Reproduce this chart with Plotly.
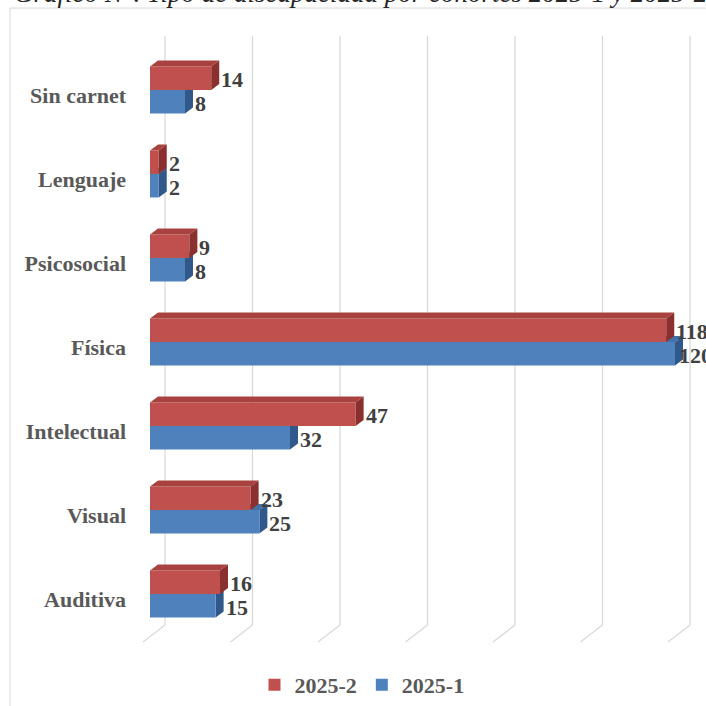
import plotly.graph_objects as go

# ---------------- data ----------------
categories = ["Auditiva", "Visual", "Intelectual", "Física", "Psicosocial", "Lenguaje", "Sin carnet"]
values_2025_2 = [16, 23, 47, 118, 9, 2, 14]
values_2025_1 = [15, 25, 32, 120, 8, 2, 8]
series_names = ["2025-2", "2025-1"]
grid_ticks = [0, 20, 40, 60, 80, 100, 120]
title_text = "Gráfico N°. Tipo de discapacidad por cohortes 2025-1 y 2025-2"

# ---------------- layout constants ----------------
W = H = 706
L, R, T, B = 141, 0, 48, 69
PX_PER_UNIT = 4.375
X0_PX = 150
xmin = -(X0_PX - L) / PX_PER_UNIT
xmax = (W - R - X0_PX) / PX_PER_UNIT
plot_w = W - L - R
plot_h = H - T - B
n = len(categories)
cat_px = plot_h / n
bar_w = 23.5 / cat_px
DX = 8 / PX_PER_UNIT      # bar depth (x, data units)
DY = 6 / cat_px           # bar depth (y, data units)
BACK = 15 / PX_PER_UNIT   # back wall offset
FRONT = -7 / PX_PER_UNIT  # floor front offset

FONT = "Liberation Serif"
RED, BLUE = "#C0504D", "#4F81BD"
RED_TOP, RED_SIDE = "#A8423F", "#8A302E"
BLUE_TOP, BLUE_SIDE = "#4372AA", "#31588A"
FS = 22


def py(px):
    return (H - B - px) / plot_h


def pxx(px):
    return (px - L) / plot_w


ypos = list(range(n))

fig = go.Figure()
fig.add_trace(go.Bar(
    y=ypos, x=values_2025_2, orientation="h", name=series_names[0],
    width=bar_w, offset=0, marker=dict(color=RED, line=dict(width=0)),
    hoverinfo="x+name"))
fig.add_trace(go.Bar(
    y=ypos, x=values_2025_1, orientation="h", name=series_names[1],
    width=bar_w, offset=-bar_w, marker=dict(color=BLUE, line=dict(width=0)),
    hoverinfo="x+name"))

shapes = []
# chart border
shapes.append(dict(type="rect", xref="paper", yref="paper",
                   x0=pxx(10), x1=pxx(740), y0=py(740), y1=py(8),
                   line=dict(color="#d9d9d9", width=1), fillcolor="rgba(0,0,0,0)",
                   layer="below"))
# back-wall gridlines + floor lines
for v in grid_ticks:
    shapes.append(dict(type="line", xref="x", yref="paper",
                       x0=v + BACK, x1=v + BACK, y0=py(626), y1=py(36),
                       line=dict(color="#d9d9d9", width=1.3), layer="below"))
    shapes.append(dict(type="line", xref="x", yref="paper",
                       x0=v + BACK, x1=v + FRONT, y0=py(626), y1=py(643),
                       line=dict(color="#d9d9d9", width=1.3), layer="below"))


def box_faces(v, y_bottom, y_top, top_col, side_col, layer):
    top = (f"M 0 {y_top} L {v} {y_top} L {v + DX} {y_top + DY} "
           f"L {DX} {y_top + DY} Z")
    side = (f"M {v} {y_bottom} L {v + DX} {y_bottom + DY} "
            f"L {v + DX} {y_top + DY} L {v} {y_top} Z")
    return [
        dict(type="path", xref="x", yref="y", path=top, fillcolor=top_col,
             line=dict(width=0), layer=layer),
        dict(type="path", xref="x", yref="y", path=side, fillcolor=side_col,
             line=dict(width=0), layer=layer),
    ]


for i in range(n):
    shapes += box_faces(values_2025_1[i], ypos[i] - bar_w, ypos[i],
                        BLUE_TOP, BLUE_SIDE, "between")
for i in range(n):
    shapes += box_faces(values_2025_2[i], ypos[i], ypos[i] + bar_w,
                        RED_TOP, RED_SIDE, "above")

vmax = max(values_2025_2 + values_2025_1)
annotations = []
for i in range(n):
    annotations.append(dict(x=values_2025_2[i], y=ypos[i] + bar_w / 2, xref="x", yref="y",
                            text=str(values_2025_2[i]), showarrow=False,
                            xanchor="left", yanchor="middle",
                            xshift=8 if values_2025_2[i] < vmax else 2, yshift=-1,
                            font=dict(family=FONT, size=FS, color="#404040", weight="bold")))
    annotations.append(dict(x=values_2025_1[i], y=ypos[i] - bar_w / 2, xref="x", yref="y",
                            text=str(values_2025_1[i]), showarrow=False,
                            xanchor="left", yanchor="middle",
                            xshift=8 if values_2025_1[i] < vmax else 2, yshift=-2,
                            font=dict(family=FONT, size=FS, color="#404040", weight="bold")))
annotations.append(dict(x=pxx(12), y=py(9.5), xref="paper", yref="paper",
                        text=title_text, showarrow=False, xanchor="left", yanchor="bottom",
                        font=dict(family=FONT, size=27, color="#262626", style="italic")))

fig.update_layout(
    width=W, height=H,
    margin=dict(l=L, r=R, t=T, b=B, pad=0),
    paper_bgcolor="white", plot_bgcolor="white",
    barmode="overlay",
    showlegend=True,
    legend=dict(orientation="h", x=pxx(362), xanchor="center", y=py(686), yanchor="middle",
                font=dict(family=FONT, size=FS, color="#595959", weight="bold"),
                itemwidth=30, bgcolor="rgba(0,0,0,0)"),
    xaxis=dict(range=[xmin, xmax], showgrid=False, zeroline=False, showline=False,
               showticklabels=False, ticks=""),
    yaxis=dict(range=[-0.5, n - 0.5], tickvals=ypos, ticktext=categories,
               showgrid=False, zeroline=False, showline=False, ticks="",
               ticklabelstandoff=14, ticklabelshift=5,
               tickfont=dict(family=FONT, size=FS, color="#595959", weight="bold")),
    shapes=shapes,
    annotations=annotations,
)

fig.write_html("out.html", config={"displayModeBar": False},
               post_script="document.body.style.margin='0';document.body.style.overflow='hidden';")
